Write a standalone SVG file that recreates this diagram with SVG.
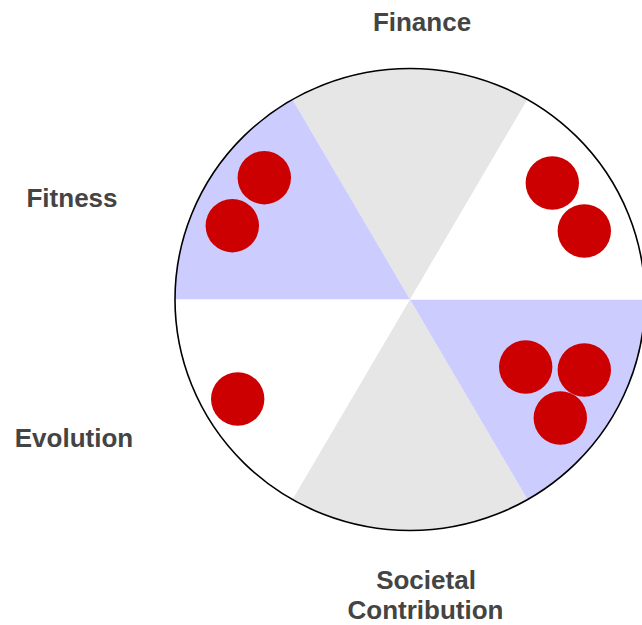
<svg xmlns="http://www.w3.org/2000/svg" width="642" height="625" viewBox="0 0 642 625">
<style>
.lbl{font-family:"Liberation Sans",Arial,sans-serif;font-weight:bold;font-size:26px;fill:#444444;text-anchor:middle}
.gray{fill:#E6E6E6}
.blue{fill:#CCCCFF}
.white{fill:#FFFFFF}
.dot{fill:#CC0000}
</style>
<rect width="642" height="625" fill="#FFFFFF"/>
<g id="wheel">
<path class="gray" d="M410,299.5 L527.5,99.45 A235,231 0 0 0 292.5,99.45 Z"/>
<path class="blue" d="M410,299.5 L292.5,99.45 A235,231 0 0 0 175,299.5 Z"/>
<path class="white" d="M410,299.5 L175,299.5 A235,231 0 0 0 292.5,499.55 Z"/>
<path class="gray" d="M410,299.5 L292.5,499.55 A235,231 0 0 0 527.5,499.55 Z"/>
<path class="blue" d="M410,299.5 L527.5,499.55 A235,231 0 0 0 645,299.5 Z"/>
<path class="white" d="M410,299.5 L645,299.5 A235,231 0 0 0 527.5,99.45 Z"/>
<ellipse cx="410" cy="299.5" rx="235" ry="231" fill="none" stroke="#000000" stroke-width="1.6"/>
</g>
<g id="dots">
<circle class="dot" cx="264.3" cy="177.7" r="26.7"/>
<circle class="dot" cx="232.3" cy="225.7" r="26.7"/>
<circle class="dot" cx="552.3" cy="183" r="26.7"/>
<circle class="dot" cx="584.3" cy="231" r="26.7"/>
<circle class="dot" cx="525.7" cy="367" r="26.7"/>
<circle class="dot" cx="584.3" cy="370" r="26.7"/>
<circle class="dot" cx="560.3" cy="418" r="26.7"/>
<circle class="dot" cx="237.7" cy="399" r="26.7"/>
</g>
<g id="labels">
<text id="finance" class="lbl" x="422" y="31">Finance</text>
<text id="fitness" class="lbl" x="72" y="207">Fitness</text>
<text id="evolution" class="lbl" x="74" y="447">Evolution</text>
<text id="societal" class="lbl" x="426" y="589">Societal</text>
<text id="contribution" class="lbl" x="425.5" y="619">Contribution</text>
</g>
</svg>
